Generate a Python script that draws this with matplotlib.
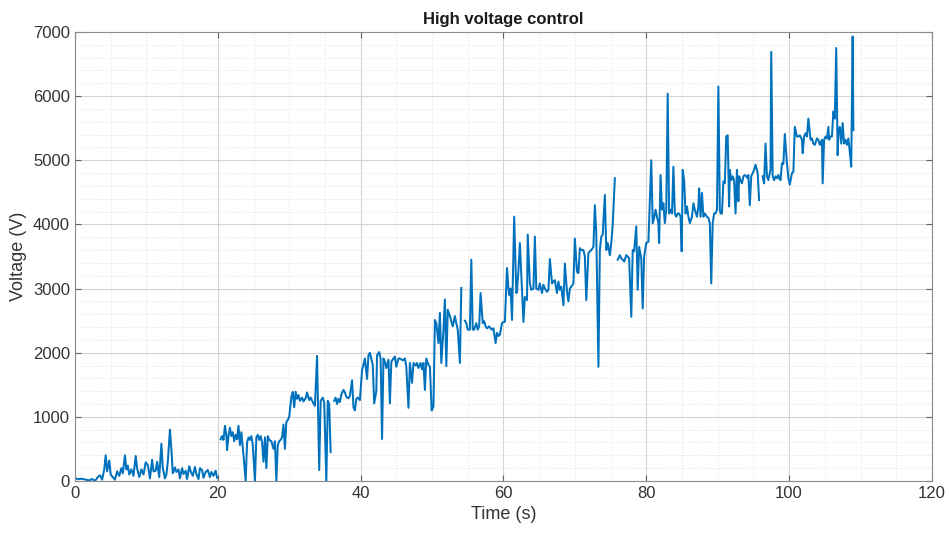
import numpy as np
import matplotlib
matplotlib.use("Agg")
import matplotlib.pyplot as plt
from matplotlib.ticker import MultipleLocator

nan = np.nan

# Sample times (s); nan entries break the trace
time_s = [
    0.0, 0.5, 1.0, 1.5, 2.0, 2.4, 2.8, 3.2, 3.5, 3.8, 4.1, 4.3, 4.5, 4.8, 5.0, 5.3, 5.6, 5.9,
    6.2, 6.5, 6.7, 7.0, 7.2, 7.4, 7.6, 7.9, 8.2, 8.5, 8.7, 9.0, 9.3, 9.6, 9.9, 10.2, 10.5,
    10.8, 11.0, 11.3, 11.5, 11.8, 12.1, 12.3, 12.6, 12.8, 13.0, 13.3, 13.5, 13.7, 14.0, 14.2,
    14.5, 14.7, 15.0, 15.2, 15.5, 15.7, 16.0, 16.2, 16.5, 16.8, 17.0, 17.3, 17.5, 17.8, 18.0,
    18.3, 18.6, 18.9, 19.1, 19.4, 19.7, 19.9, 20.1,
    20.4, 20.6, 20.8, 21.0, 21.2, 21.3, 21.5, 21.7, 21.9, 22.1, 22.3, 22.5, 22.7, 22.9, 23.1,
    23.3, 23.6, 23.9, 24.1, 24.3, 24.5, 24.7, 24.9, 25.2, 25.4, 25.6, 25.8, 26.0, 26.2, 26.4,
    26.6, 26.8, 27.0, 27.2, 27.5, 27.8, 28.0, 28.2, 28.4, 28.6, 28.8, 29.0, 29.2, 29.4, 29.6,
    29.8, 30.0, 30.3, 30.5, 30.7, 30.9, 31.1, 31.3, 31.5, 31.8, 32.0, 32.3, 32.5, 32.8, 33.0,
    33.3, 33.6, 33.9, 34.2, 34.4, 34.7, 34.9, 35.2, 35.4, 35.6, 35.8, 36.0,
    36.3, 36.5, 36.7, 36.9, 37.1, 37.3, 37.6, 37.8, 38.0, 38.3, 38.5, 38.8, 39.0, 39.2, 39.4,
    39.6, 39.9,
    40.2, 40.4, 40.6, 40.9, 41.1, 41.3, 41.7, 41.9, 42.2, 42.3, 42.6, 42.8, 43.0, 43.2, 43.4,
    43.6, 43.9, 44.1, 44.3, 44.6, 44.8, 45.0, 45.3, 45.5, 45.9, 46.2, 46.4, 46.7, 46.9, 47.2,
    47.4, 47.7, 47.9, 48.1, 48.4, 48.6, 48.8, 49.0, 49.2, 49.5, 49.7, 49.95, 50.2, 50.4, 50.6,
    50.9, 51.1, 51.3, 51.6, 51.8, 52.0, 52.2, 52.5, 52.7, 52.9, 53.2, 53.4, 53.6, 53.9, 54.1,
    54.3,
    54.6, 54.8, 55.0, 55.3, 55.5, 55.7, 55.9, 56.2, 56.4, 56.6, 56.8, 57.1, 57.3, 57.5, 57.7,
    58.0, 58.2, 58.4, 58.6, 58.9, 59.1, 59.3, 59.5, 59.8, 60.0, 60.2, 60.5, 60.7, 60.8, 61.0,
    61.2, 61.5, 61.8, 61.9, 62.1, 62.3, 62.6, 62.8, 63.0, 63.3, 63.4, 63.7, 63.9, 64.2, 64.4,
    64.6, 64.9, 65.1, 65.4, 65.6, 65.8, 66.1, 66.3, 66.5, 66.8, 67.0, 67.2, 67.5, 67.7, 67.9,
    68.1, 68.4, 68.6, 68.9, 69.1, 69.3, 69.5, 69.8, 70.0, 70.3, 70.5, 70.7, 70.9, 71.2, 71.4,
    71.6, 71.9, 72.1, 72.3, 72.6, 72.8, 73.0, 73.3, 73.5, 73.7, 73.9, 74.2, 74.4, 74.6, 74.9,
    75.1, 75.3, 75.6, 75.8,
    76.0, 76.3, 76.5, 76.7, 76.9, 77.2, 77.4, 77.6, 77.9, 78.1, 78.3, 78.6, 78.8, 79.0, 79.3,
    79.5, 79.7, 80.0, 80.3, 80.7, 80.9, 81.1, 81.3, 81.5, 81.7, 81.8, 82.0, 82.2, 82.4, 82.6,
    82.8, 83.0, 83.2, 83.4, 83.6, 83.8, 84.0, 84.2, 84.4, 84.6, 84.8, 84.96, 85.1, 85.3, 85.5,
    85.7, 85.9, 86.1, 86.4, 86.6, 86.8, 87.1, 87.3, 87.4, 87.6, 87.8, 88.0, 88.2, 88.5, 88.7,
    88.9, 89.1, 89.3, 89.5, 89.7, 89.9, 90.1, 90.3, 90.4, 90.6, 90.8, 91.0, 91.2, 91.4, 91.6,
    91.7, 91.9, 92.1, 92.3, 92.5, 92.7, 92.9, 93.0, 93.2, 93.4, 93.6, 93.8, 94.0, 94.2, 94.3,
    94.5, 94.7, 94.9, 95.1, 95.3, 95.5, 95.6, 95.8, 96.0,
    96.3, 96.5, 96.7, 96.9, 97.1, 97.2, 97.4, 97.5, 97.7, 97.9, 98.1, 98.3, 98.5, 98.6, 98.8,
    99.0, 99.2, 99.4, 99.7, 99.9, 100.1, 100.4, 100.6, 100.8, 101.1, 101.3, 101.5, 101.8,
    101.9, 102.1, 102.3, 102.5, 102.7, 103.0, 103.2, 103.4, 103.6, 103.9, 104.1, 104.3, 104.6,
    104.7, 104.9, 105.1, 105.3, 105.5, 105.6, 105.8, 106.0, 106.2, 106.4, 106.6, 106.8, 106.9,
    107.1, 107.3, 107.5, 107.7, 107.9, 108.1, 108.3, 108.5, 108.7, 108.9, 109.0,
]

# Voltage (V) at each sample time
voltage_v = [
    40, 30, 35, 20, 10, 30, 0, 60, 90, 20, 180, 400, 150, 320, 100, 60, 20, 150,
    80, 200, 120, 400, 180, 240, 100, 180, 80, 390, 200, 60, 180, 100, 290, 250, 40,
    330, 150, 160, 300, 60, 580, 200, 40, 100, 300, 800, 500, 120, 210, 140,
    180, 40, 200, 110, 160, 30, 230, 150, 80, 220, 110, 30, 200, 170, 50,
    140, 170, 60, 140, 80, 160, 50, nan,
    650, 700, 640, 860, 720, 480, 700, 830, 700, 760, 620, 720, 650, 860, 560,
    760, 400, 0, 600, 680, 640, 700, 560, 0, 680, 720, 640, 700, 600, 300,
    680, 200, 700, 640, 620, 500, 620, 0, 560, 620, 640, 680, 880, 500, 920,
    950, 1000, 1310, 1390, 1150, 1390, 1280, 1340, 1250, 1300, 1240, 1290, 1380, 1260, 1300,
    1230, 1170, 1950, 170, 1250, 1300, 1220, 0, 1250, 1200, 450, nan,
    1250, 1300, 1200, 1280, 1230, 1350, 1420, 1380, 1310, 1290, 1330, 1570, 1150, 1100, 1280,
    1300, 1260,
    1730, 1810, 1910, 1590, 1960, 2000, 1810, 1210, 1400, 1960, 2010, 1910, 655, 1910, 1860,
    1760, 1890, 1210, 1860, 1910, 1940, 1780, 1910, 1910, 1880, 1910, 1780, 1140, 1840, 1530,
    1840, 1800, 1840, 1760, 1840, 1740, 1840, 1420, 1910, 1810, 1780, 1100, 1160, 2510, 2460,
    2150, 2620, 1840, 2360, 2830, 1790, 2670, 2570, 2490, 2410, 2570, 2460, 2360, 1840, 3010,
    nan,
    2500, 2460, 2360, 2360, 3450, 2360, 2360, 2460, 2360, 2410, 2930, 2460, 2490, 2410, 2380,
    2410, 2380, 2360, 2380, 2150, 2310, 2260, 2280, 2460, 2480, 2480, 3320, 3000, 2900, 3000,
    2510, 4120, 2930, 2950, 3290, 3710, 2950, 2480, 2870, 2820, 3840, 3080, 2980, 3000, 3810,
    3000, 2980, 3080, 2930, 3060, 3000, 2950, 2980, 3460, 3080, 3110, 3130, 2930, 3110, 2980,
    3030, 2740, 3390, 2950, 2800, 3000, 3030, 3080, 3780, 3260, 3240, 3630, 3600, 3600, 3500,
    2820, 3550, 3580, 3600, 3650, 4300, 3860, 1780, 3600, 3810, 3840, 4460, 3600, 3710, 3520,
    3710, 3990, 4720, nan,
    3450, 3520, 3470, 3450, 3420, 3520, 3500, 3470, 2560, 3600, 3580, 3970, 2980, 3650, 3470,
    2690, 3500, 3710, 3730, 5000, 4020, 4100, 4230, 4120, 4020, 3710, 4770, 4230, 4330, 4020,
    4230, 6040, 4170, 4230, 4170, 4900, 4170, 4120, 4170, 4170, 4120, 3580, 4850, 4690, 4170,
    4280, 4120, 4020, 4120, 4330, 4230, 4120, 4280, 4560, 4120, 4490, 4120, 4170, 4120, 4100,
    4020, 3080, 4020, 4170, 4170, 4230, 6150, 4230, 4170, 4170, 4670, 4640, 5370, 5390, 4280,
    4850, 4690, 4750, 4690, 4170, 4850, 4360, 4750, 4690, 4640, 4750, 4770, 4750, 4720, 4770,
    4300, 4750, 4800, 4850, 4930, 4850, 4800, 4380, nan,
    4750, 4640, 5260, 4750, 4690, 4750, 4850, 6690, 4750, 4690, 4750, 4720, 4770, 4720, 4690,
    4950, 4940, 5410, 4950, 4720, 4620, 4800, 4820, 5520, 5370, 5370, 5390, 5320,
    5110, 5370, 5420, 5370, 5650, 5320, 5340, 5260, 5240, 5340, 5320, 5240, 5320,
    4640, 5320, 5370, 5340, 5520, 5320, 5370, 5370, 5760, 5650, 6750, 5080, 5420,
    5520, 5260, 5580, 5260, 5320, 5240, 5340, 5130, 4900, 6930, 5470,
]

x_ticks = [0, 20, 40, 60, 80, 100, 120]
y_ticks = [0, 1000, 2000, 3000, 4000, 5000, 6000, 7000]

plt.rcParams["font.family"] = ["Liberation Sans", "DejaVu Sans"]

fig = plt.figure(figsize=(9.49, 5.33), dpi=100)
ax = fig.add_axes([0.079, 0.0976, 0.903, 0.8424])

ax.plot(time_s, voltage_v, color="#0072BD", linewidth=1.45)

ax.set_xlim(0, 120)
ax.set_ylim(0, 7000)
ax.set_xticks(x_ticks)
ax.set_yticks(y_ticks)
ax.xaxis.set_minor_locator(MultipleLocator(5))
ax.yaxis.set_minor_locator(MultipleLocator(200))

ax.grid(which="major", color="#d4d4d4", linewidth=0.8)
ax.grid(which="minor", color="#e0e0e0", linestyle=":", linewidth=0.7)
ax.set_axisbelow(True)

for side in ["left", "right", "top", "bottom"]:
    ax.spines[side].set_color("#8c8c8c")
    ax.spines[side].set_linewidth(0.8)

ax.tick_params(which="major", direction="in", length=4, width=0.8, color="#606060",
               labelsize=12, labelcolor="#333333", top=True, right=True)
ax.tick_params(which="minor", length=0, top=True, right=True)

ax.set_xlabel("Time (s)", fontsize=13, color="#333333", labelpad=4)
ax.set_ylabel("Voltage (V)", fontsize=13, color="#333333", labelpad=4)
ax.set_title("High voltage control", fontsize=12, fontweight="bold", color="#1a1a1a", pad=6)

fig.savefig("out.png", dpi=100)
